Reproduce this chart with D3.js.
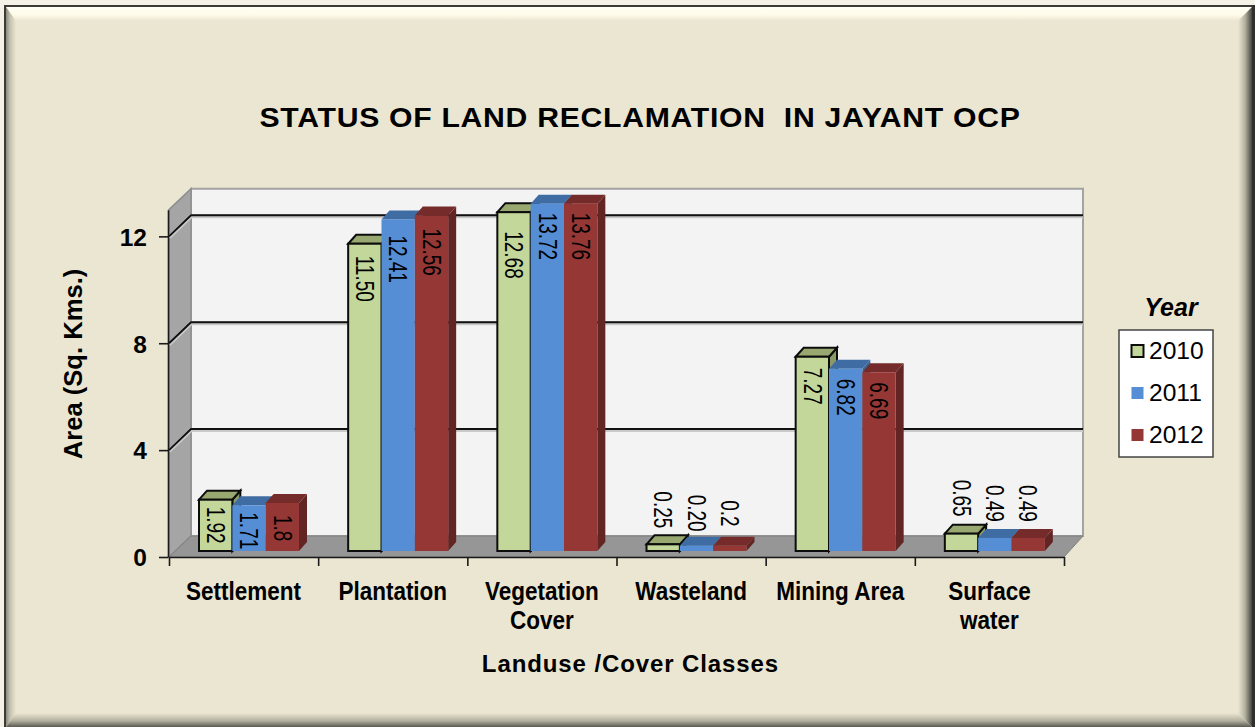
<!DOCTYPE html>
<html><head><meta charset="utf-8">
<script src="https://cdnjs.cloudflare.com/ajax/libs/d3/7.8.5/d3.min.js"></script>
<style>html,body{margin:0;padding:0;background:#fff;overflow:hidden}svg{display:block}text{font-family:"Liberation Sans",Arial,sans-serif;fill:#000}</style>
</head><body><svg id="c" width="1257" height="727"></svg>
<script>
const categories=[["Settlement"],["Plantation"],["Vegetation","Cover"],["Wasteland"],["Mining Area"],["Surface","water"]];
const years=["2010","2011","2012"];
const values2010=[1.92,11.50,12.68,0.25,7.27,0.65];
const values2011=[1.71,12.41,13.72,0.20,6.82,0.49];
const values2012=[1.80,12.56,13.76,0.20,6.69,0.49];
const labels2010=["1.92","11.50","12.68","0.25","7.27","0.65"];
const labels2011=["1.71","12.41","13.72","0.20","6.82","0.49"];
const labels2012=["1.8","12.56","13.76","0.2","6.69","0.49"];
const yTicks=[0,4,8,12];
const yMax=13;

const series=[
 {name:years[0],vals:values2010,labs:labels2010,front:"#c4d79b",top:"#98a870",side:"#8a9a66",stroke:"#0c0c0c"},
 {name:years[1],vals:values2011,labs:labels2011,front:"#558ed5",top:"#3f6ca3",side:"#3a6495",stroke:null},
 {name:years[2],vals:values2012,labs:labels2012,front:"#953735",top:"#742b29",side:"#632523",stroke:null}];

const svg=d3.select("#c");
const W=1257,H=727;
const defs=svg.append("defs");
function grad(id,x1,y1,x2,y2,stops){const g=defs.append("linearGradient").attr("id",id).attr("x1",x1).attr("y1",y1).attr("x2",x2).attr("y2",y2);
 stops.forEach(s=>g.append("stop").attr("offset",s[0]).attr("stop-color",s[1]));}
const bg="#ebe6d1";
grad("gT",0,0,0,1,[[0,"#fffff4"],[.55,"#fdfbe9"],[1,bg]]);
grad("gL",0,0,1,0,[[0,"#8a897e"],[.4,"#c4c1b0"],[1,bg]]);
grad("gR",0,0,1,0,[[0,bg],[.5,"#b4b1a0"],[1,"#45453f"]]);
grad("gB",0,0,0,1,[[0,bg],[.55,"#b4b1a0"],[1,"#5a5a52"]]);

// frame
const fx0=6,fy0=7,fx1=1252,fy1=727,bw=14;
svg.append("rect").attr("width",W).attr("height",H).attr("fill","#f4f2e6");
svg.append("rect").attr("x",1255).attr("width",2).attr("height",H).attr("fill","#fff");
svg.append("rect").attr("x",fx0).attr("y",fy0).attr("width",fx1-fx0).attr("height",fy1-fy0).attr("fill",bg);
const poly=(pts,fill,stroke,sw)=>svg.append("polygon").attr("points",pts.map(p=>p.join(",")).join(" ")).attr("fill",fill).attr("stroke",stroke||"none").attr("stroke-width",sw||0);
poly([[fx0,fy0],[fx1,fy0],[fx1-bw,fy0+bw],[fx0+10,fy0+bw]],"url(#gT)");
poly([[fx0,fy0],[fx0+10,fy0+bw],[fx0+10,fy1-bw],[fx0,fy1]],"url(#gL)");
poly([[fx1,fy0],[fx1-bw,fy0+bw],[fx1-bw,fy1-bw],[fx1,fy1]],"url(#gR)");
poly([[fx0,fy1],[fx0+10,fy1-bw],[fx1-bw,fy1-bw],[fx1,fy1]],"url(#gB)");
svg.append("path").attr("d",`M${fx0-1},${H}V${fy0-1}H${fx1+1}`).attr("fill","none").attr("stroke","#3c3c34").attr("stroke-width",2);
svg.append("rect").attr("x",fx1).attr("y",fy0-2).attr("width",3).attr("height",H).attr("fill","#303030");

// scales
const x0=169,x1=1064,yBase=557,dx=22,dy=21;
const idx=d3.scaleLinear().domain([0,6]).range([x0,x1]);
const y=d3.scaleLinear().domain([0,yMax]).range([yBase,yBase-yMax*26.72]).clamp(true);
const cat=d3.scaleBand().domain(d3.range(6)).range([x0,x1]).paddingInner(0).paddingOuter(0);
const inner=d3.scaleBand().domain(d3.range(3)).range([30,130]);

// walls
poly([[x0+dx,y(yMax)-dy],[x1+dx-3,y(yMax)-dy],[x1+dx-3,y(0)-dy],[x0+dx,y(0)-dy]],"#f3f3f3","#a3a3a3",2);
poly([[x0,y(yMax)],[x0+dx,y(yMax)-dy],[x0+dx,y(0)-dy],[x0,y(0)]],"#a5a5a5","#8e8e8e",1.5);
poly([[x0,y(0)],[x0+dx,y(0)-dy],[x1+dx-3,y(0)-dy],[x1,y(0)]],"#969696","#7f7f7f",1);

// gridlines
yTicks.filter(t=>t>0).forEach(t=>{
 svg.append("path").attr("d",`M${x0},${y(t)}L${x0+dx},${y(t)-dy}H${x1+dx-3}`).attr("fill","none").attr("stroke","#c9c9c9").attr("stroke-width",4).attr("transform","translate(0,1)");
 svg.append("path").attr("d",`M${x0},${y(t)}L${x0+dx},${y(t)-dy}H${x1+dx-3}`).attr("fill","none").attr("stroke","#111").attr("stroke-width",2);
});

// axes
const ay=svg.append("g").attr("transform",`translate(${x0-1},0)`).call(d3.axisLeft(y).tickValues(yTicks).tickSize(9).tickPadding(12).tickSizeOuter(0));
ay.selectAll("path,line").attr("stroke","#1a1a1a").attr("stroke-width",1.6);
ay.selectAll("text").attr("font-size",24.5).attr("font-weight","bold").attr("font-family","'Liberation Sans'").attr("dy","0.36em");
const ax=svg.append("g").attr("transform",`translate(0,${yBase})`).call(d3.axisBottom(idx).ticks(6).tickSize(9).tickSizeOuter(0).tickFormat(""));
ax.selectAll("path,line").attr("stroke","#1a1a1a").attr("stroke-width",1.6);

// bars
const bdx=8,bdy=9,off=6;
const nudge=[[7,7,12],[12,16,13],[19,9,9],[0,0,0],[11,10,10],[0,0,0]];
const topGap=[[0,0,0],[0,0,0],[0,0,0],[7,5,10],[0,0,0],[8,7,7]];
const lab=[];
categories.forEach((c,i)=>{
 series.forEach((s,j)=>{
  const bx=cat(i)+inner(j), bw2=inner.bandwidth(), yb=yBase-off, v=s.vals[i];
  const yt=y(v)-off;
  const r=bx+bw2;
  const st=s.stroke||"none", sw=s.stroke?2:0;
  poly([[r,yt],[r+bdx,yt-bdy],[r+bdx,yb-bdy],[r,yb]],s.side,st,sw);
  poly([[bx,yt],[bx+bdx,yt-bdy],[r+bdx,yt-bdy],[r,yt]],s.top,st,sw);
  svg.append("rect").attr("x",bx).attr("y",yt).attr("width",bw2).attr("height",yb-yt).attr("fill",s.front).attr("stroke",st).attr("stroke-width",sw);
  const inside=yb-yt>45;
  const ly=inside?yt+nudge[i][j]:yt-bdy-topGap[i][j];
  lab.push({x:bx+bw2/2+0.5,y:ly,t:s.labs[i],anchor:inside?"start":"end"});
 });
});
lab.forEach(d=>{
 svg.append("text").attr("transform",`translate(${d.x},${d.y}) rotate(90) scale(1,1.38)`).attr("text-anchor",d.anchor).attr("dy","0.35em").attr("font-size",19).text(d.t);
});

// category labels
categories.forEach((c,i)=>{
 c.forEach((ln,k)=>{
  svg.append("text").attr("transform",`translate(${cat(i)+cat.bandwidth()/2},${600+k*29}) scale(0.9,1)`).attr("text-anchor","middle").attr("font-size",25).attr("font-weight","bold").text(ln);
 });
});

svg.append("text").attr("transform","translate(640,127) scale(1.06,1)").attr("text-anchor","middle").attr("font-size",28.5).attr("font-weight","bold").attr("letter-spacing",0.65).style("white-space","pre").text("STATUS OF LAND RECLAMATION  IN JAYANT OCP");
svg.append("text").attr("x",630.5).attr("y",672).attr("text-anchor","middle").attr("font-size",24).attr("font-weight","bold").attr("letter-spacing",0.9).text("Landuse /Cover Classes");
svg.append("text").attr("transform","translate(82,364) rotate(-90)").attr("text-anchor","middle").attr("font-size",25.6).attr("font-weight","bold").text("Area (Sq. Kms.)");

// legend
svg.append("text").attr("x",1171).attr("y",316).attr("text-anchor","middle").attr("font-size",25).attr("font-weight","bold").attr("font-style","italic").text("Year");
svg.append("rect").attr("x",1119).attr("y",330).attr("width",94).attr("height",127).attr("fill","#fff").attr("stroke","#444").attr("stroke-width",1.5);
const ly=d3.scalePoint().domain(years).range([345,429]);
series.forEach(s=>{
 svg.append("rect").attr("x",1131.5).attr("y",ly(s.name)).attr("width",12).attr("height",12).attr("fill",s.front).attr("stroke",s.stroke||"none").attr("stroke-width",s.stroke?2:0);
 svg.append("text").attr("x",1149).attr("y",ly(s.name)+5).attr("dy","0.36em").attr("font-size",24.6).text(s.name);
});
</script></body></html>
